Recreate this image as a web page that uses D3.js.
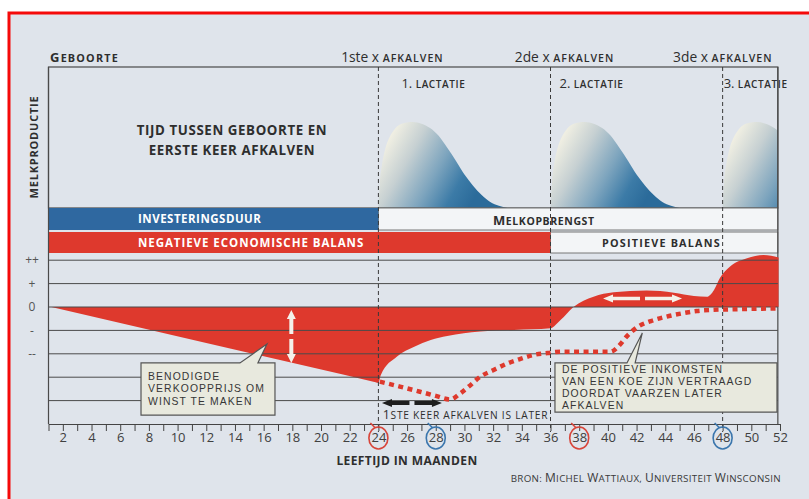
<!DOCTYPE html>
<html>
<head>
<meta charset="utf-8">
<script src="https://cdn.jsdelivr.net/npm/d3@7"></script>
<style>
  body { margin: 0; background: #fff; }
  svg { display: block; font-family: "Open Sans", "DejaVu Sans", sans-serif; }
</style>
</head>
<body>
<svg id="chart" width="809" height="499"></svg>
<script>
const tickMonths = d3.range(1, 53);
const calvingMonths = [24, 36, 48];
const calvingLabels = ['1ste x ', '2de x ', '3de x '];
const lactationLabels = ['1. ', '2. ', '3. '];
const redCircled = [24, 38];
const blueCircled = [28, 48];
const gridValues = [2, 1, 0, -1, -2, -3, -4];
const levelValues = [2, 1, 0, -1, -2];
const levelLabels = ['++', '+', '0', '-', '--'];

// lactation curve: months after calving vs relative milk yield
const lactOffset = [0, 0.1, 0.25, 0.5, 0.8, 1.1, 1.5, 2.0, 2.4, 3.0, 3.6, 4.2, 4.8, 5.4, 6.0, 6.6, 7.2, 7.8, 8.4, 9.0];
const lactYield = [0, 0.3, 0.5, 0.7, 0.83, 0.91, 0.97, 0.995, 1.0, 0.98, 0.93, 0.84, 0.70, 0.55, 0.39, 0.26, 0.15, 0.07, 0.025, 0];

// economic balance (solid red area)
const balanceMonths = [1.2, 12, 23.8, 24, 24.17, 25.3, 26.5, 27.65, 28.8, 31.1, 33.45, 36, 36.7, 37.6, 39.0, 40.4, 42.7, 44.6, 46.0, 46.9, 47.4, 47.8, 48.5, 49.7, 50.85, 51.9];
const balanceValues = [0, -1.54, -3.22, -3.25, -2.91, -2.12, -1.70, -1.41, -1.24, -1.05, -0.98, -0.91, -0.56, 0, 0.44, 0.63, 0.70, 0.61, 0.47, 0.44, 0.73, 1.23, 1.72, 2.08, 2.22, 2.12];

// balance when first calving is later (dotted line)
const delayMonths = [24.1, 25.5, 26.9, 28, 29.0, 29.7, 30.3, 31.1, 32, 33, 34, 34.8, 35.8, 36.7, 38, 39.3, 40.2, 40.7, 41.4, 42.1, 43, 44.1, 45.2, 46.2, 47.3, 48.5, 50, 51.9];
const delayValues = [-3.19, -3.4, -3.62, -3.8, -3.95, -3.7, -3.4, -2.98, -2.7, -2.41, -2.2, -2.05, -1.97, -1.91, -1.91, -1.91, -1.91, -1.7, -1.2, -0.84, -0.6, -0.41, -0.27, -0.17, -0.12, -0.1, -0.08, -0.06];

const RED = '#de392d';
const BLUE = '#2f68a0';
const INK = '#2e2e2e';
const LINE = '#4a4a4a';

const svg = d3.select('#chart');

// poster background with red frame
svg.append('rect')
    .attr('x', 9).attr('y', 13)
    .attr('width', 840).attr('height', 520)
    .attr('fill', '#dfe4eb')
    .attr('stroke', '#f50a0a')
    .attr('stroke-width', 3);

const x = d3.scaleLinear().domain([1, 52]).range([48.5, 780]);
const yLact = d3.scaleLinear().domain([0, 1]).range([208, 122]);
const yEcon = d3.scaleLinear().domain([-5, 2]).range([424, 260.2]);

const frameLeft = x(1);
const frameRight = x(51.85);
const frameTop = 67;
const lactBottom = yLact(0);

function capsText(sel, parts, bigSize, smallSize) {
    parts.forEach(([str, big]) => {
        sel.append('tspan')
            .attr('font-size', big ? bigSize : smallSize)
            .text(str);
    });
    return sel;
}

// ---- lactation curves ----
const defs = svg.append('defs');
const grad = defs.append('linearGradient')
    .attr('id', 'lactGrad')
    .attr('x1', 0.05).attr('y1', 0.3)
    .attr('x2', 0.85).attr('y2', 0.6);
[['0', '#efeee2'], ['0.25', '#c6d0d2'], ['0.55', '#7ea5be'], ['0.8', '#3c7ba7'], ['1', '#2b6b9a']]
    .forEach(([o, c]) => grad.append('stop').attr('offset', o).attr('stop-color', c));

defs.append('clipPath').attr('id', 'frameClip')
    .append('rect')
    .attr('x', frameLeft).attr('y', frameTop)
    .attr('width', frameRight - frameLeft).attr('height', lactBottom - frameTop);

const lactArea = d3.area()
    .x(d => x(d.m))
    .y0(lactBottom)
    .y1(d => yLact(d.v))
    .curve(d3.curveMonotoneX);

const gLact = svg.append('g').attr('clip-path', 'url(#frameClip)');
calvingMonths.forEach(cm => {
    const pts = lactOffset.map((o, i) => ({m: cm + o, v: lactYield[i]}));
    gLact.append('path')
        .datum(pts)
        .attr('d', lactArea)
        .attr('fill', 'url(#lactGrad)');
});

// ---- frames and bars ----
svg.append('rect')
    .attr('x', frameLeft).attr('y', frameTop)
    .attr('width', frameRight - frameLeft).attr('height', lactBottom - frameTop)
    .attr('fill', 'none').attr('stroke', LINE).attr('stroke-width', 1.2);

svg.append('rect')
    .attr('x', x(24)).attr('y', 208)
    .attr('width', frameRight - x(24)).attr('height', 22)
    .attr('fill', '#f3f5f7').attr('stroke', '#777');

svg.append('rect')
    .attr('x', x(36)).attr('y', 232)
    .attr('width', frameRight - x(36)).attr('height', 21)
    .attr('fill', '#f3f5f7').attr('stroke', '#777');

svg.append('rect')
    .attr('x', frameLeft).attr('y', 208)
    .attr('width', x(24) - frameLeft).attr('height', 22)
    .attr('fill', BLUE);

svg.append('rect')
    .attr('x', frameLeft).attr('y', 232)
    .attr('width', x(36) - frameLeft).attr('height', 21)
    .attr('fill', RED);

// side lines of the whole diagram
[frameLeft, frameRight].forEach(fx => {
    svg.append('line')
        .attr('x1', fx).attr('x2', fx)
        .attr('y1', frameTop).attr('y2', yEcon(-5))
        .attr('stroke', LINE).attr('stroke-width', 1.2);
});

// ---- economic balance ----
const balance = balanceMonths.map((m, i) => ({m, v: balanceValues[i]}));
const balanceArea = d3.area()
    .x(d => x(d.m))
    .y0(yEcon(0))
    .y1(d => yEcon(d.v))
    .curve(d3.curveMonotoneX);

svg.append('path')
    .datum(balance)
    .attr('d', balanceArea)
    .attr('fill', RED);

svg.append('g')
    .selectAll('line')
    .data(gridValues)
    .join('line')
    .attr('x1', frameLeft).attr('x2', frameRight)
    .attr('y1', d => yEcon(d)).attr('y2', d => yEcon(d))
    .attr('stroke', LINE)
    .attr('stroke-width', 1);

svg.append('g')
    .selectAll('text')
    .data(levelValues)
    .join('text')
    .attr('x', 32)
    .attr('y', d => yEcon(d))
    .attr('dy', '0.35em')
    .attr('text-anchor', 'middle')
    .attr('font-size', 12)
    .attr('fill', '#555')
    .text((d, i) => levelLabels[i]);

const delay = delayMonths.map((m, i) => ({m, v: delayValues[i]}));
svg.append('path')
    .datum(delay)
    .attr('d', d3.line().x(d => x(d.m)).y(d => yEcon(d.v)).curve(d3.curveMonotoneX))
    .attr('fill', 'none')
    .attr('stroke', RED)
    .attr('stroke-width', 4.5)
    .attr('stroke-dasharray', '5,4.5');

function doubleArrow(x1, y1, x2, y2, color, head, width, shaft) {
    const len = Math.hypot(x2 - x1, y2 - y1);
    const ang = Math.atan2(y2 - y1, x2 - x1) * 180 / Math.PI;
    const half = len / 2 - 2.5;
    const a = svg.append('g')
        .attr('transform', `translate(${x1},${y1}) rotate(${ang})`)
        .attr('fill', color);
    const w = width / 2, s = shaft / 2;
    a.append('path').attr('d',
        `M0,0 L${head},${-w} L${head},${-s} L${half},${-s} L${half},${s} L${head},${s} L${head},${w} Z`);
    a.append('path').attr('d',
        `M${len},0 L${len - head},${-w} L${len - head},${-s} L${len - half},${-s} L${len - half},${s} L${len - head},${s} L${len - head},${w} Z`);
}

doubleArrow(x(17.93), yEcon(-0.13), x(17.93), yEcon(-2.39), '#f4f1ea', 9, 9, 4);
doubleArrow(x(39.66), yEcon(0.36), x(45.17), yEcon(0.36), '#f4f1ea', 10, 8, 3.5);
doubleArrow(x(24.25), yEcon(-4.1), x(28.43), yEcon(-4.1), '#1e1e1e', 10, 8, 4);

capsText(svg.append('text')
    .attr('x', x(24.3)).attr('y', yEcon(-4.6) + 4)
    .attr('fill', INK)
    .style('letter-spacing', '0.75px'),
    [['1', true], ['STE KEER AFKALVEN IS LATER', false]], 12.5, 10.2);

// ---- calving lines ----
svg.append('g')
    .selectAll('line')
    .data(calvingMonths)
    .join('line')
    .attr('x1', d => x(d)).attr('x2', d => x(d))
    .attr('y1', frameTop).attr('y2', yEcon(-5) + 8)
    .attr('stroke', '#3a3a3a')
    .attr('stroke-width', 1)
    .attr('stroke-dasharray', '4,3');

// ---- callouts ----
function callout(box, tail, lines) {
    const x0 = x(box[0]), x1 = x(box[1]);
    const y0 = yEcon(box[2]), y1 = yEcon(box[3]);
    const d = `M${x0},${y0} H${x(tail[0])} L${x(tail[2])},${yEcon(tail[3])} L${x(tail[1])},${y0} H${x1} V${y1} H${x0} Z`;
    svg.append('path')
        .attr('d', d)
        .attr('fill', '#e8e9de')
        .attr('stroke', '#555')
        .attr('stroke-width', 1.2);
    const step = 12.2;
    const first = (y0 + y1) / 2 - lines.length * step / 2 + 9.5;
    svg.append('g')
        .selectAll('text')
        .data(lines)
        .join('text')
        .attr('x', x0 + 7)
        .attr('y', (t, i) => first + i * step)
        .attr('font-family', '"Liberation Sans", Arial, sans-serif')
        .attr('font-size', 10.4)
        .attr('fill', '#363636')
        .style('letter-spacing', '1.1px')
        .text(t => t);
}

callout([7.45, 16.79, -2.39, -4.62], [14.35, 15.6, 16.23, -1.58],
    ['BENODIGDE', 'VERKOOPPRIJS OM', 'WINST TE MAKEN']);
callout([36.31, 51.79, -2.39, -4.49], [41.33, 41.9, 42.4, -1.11],
    ['DE POSITIEVE INKOMSTEN', 'VAN EEN KOE ZIJN VERTRAAGD', 'DOORDAT VAARZEN LATER', 'AFKALVEN']);

// ---- x axis ----
const axis = d3.axisBottom(x)
    .tickValues(tickMonths)
    .tickSize(7)
    .tickSizeOuter(0)
    .tickPadding(2)
    .tickFormat(d => d % 2 === 0 ? d : '');

const gAxis = svg.append('g')
    .attr('transform', `translate(0,${yEcon(-5)})`)
    .call(axis)
    .attr('font-family', null)
    .attr('font-size', 13);
gAxis.select('.domain').attr('stroke', '#444').attr('stroke-width', 1.2);
gAxis.selectAll('.tick line').attr('stroke', '#444');
gAxis.selectAll('.tick text').attr('fill', '#404040');

// hand drawn circles round the ticks
[[redCircled, '#d8453a'], [blueCircled, '#3b76ad']].forEach(([months, color]) => {
    const g = svg.append('g').attr('fill', 'none').attr('stroke', color).attr('stroke-width', 1.6);
    g.selectAll('ellipse')
        .data(months)
        .join('ellipse')
        .attr('cx', d => x(d))
        .attr('cy', yEcon(-5) + 14)
        .attr('rx', 9.5)
        .attr('ry', 11);
    g.selectAll('path')
        .data(months)
        .join('path')
        .attr('d', d => `M${x(d) - 8},${yEcon(-5) - 1} L${x(d) - 3},${yEcon(-5) + 4}`);
});

// ---- texts ----
capsText(svg.append('text')
    .attr('x', 50).attr('y', 61.5)
    .attr('font-weight', 'bold').attr('fill', INK)
    .style('letter-spacing', '1.2px'),
    [['G', true], ['EBOORTE', false]], 13, 10.8);

calvingMonths.forEach((m, i) => {
    capsText(svg.append('text')
        .attr('x', Math.min(x(m) + 14, frameRight - 55))
        .attr('y', 61.5)
        .attr('text-anchor', 'middle')
        .attr('fill', INK),
        [[calvingLabels[i], true], ['AFKALVEN', false]], 13.8, 10.6)
        .select('tspan:last-child')
        .attr('font-weight', 600)
        .style('letter-spacing', '1px');
});

const lactLabelDx = [23, 9, 1];
calvingMonths.forEach((m, i) => {
    capsText(svg.append('text')
        .attr('x', x(m) + lactLabelDx[i])
        .attr('y', 88)
        .attr('fill', INK),
        [[lactationLabels[i], true], ['LACTATIE', false]], 13, 10)
        .select('tspan:last-child')
        .attr('font-weight', 600)
        .style('letter-spacing', '0.6px');
});

svg.append('text')
    .attr('transform', 'translate(37.5,147) rotate(-90)')
    .attr('text-anchor', 'middle')
    .attr('font-size', 11)
    .attr('font-weight', 'bold')
    .attr('fill', INK)
    .style('letter-spacing', '0.8px')
    .text('MELKPRODUCTIE');

svg.append('g')
    .selectAll('text')
    .data(['TIJD TUSSEN GEBOORTE EN', 'EERSTE KEER AFKALVEN'])
    .join('text')
    .attr('x', 232)
    .attr('y', (d, i) => 134.5 + i * 20)
    .attr('text-anchor', 'middle')
    .attr('font-size', 13.3)
    .attr('font-weight', 'bold')
    .attr('fill', INK)
    .style('letter-spacing', '0.6px')
    .text(d => d);

svg.append('text')
    .attr('x', 138).attr('y', 223)
    .attr('font-size', 11.5).attr('font-weight', 'bold')
    .attr('fill', '#fff')
    .style('letter-spacing', '0.5px')
    .text('INVESTERINGSDUUR');

svg.append('text')
    .attr('x', 138).attr('y', 246.5)
    .attr('font-size', 11.5).attr('font-weight', 'bold')
    .attr('fill', '#fff')
    .style('letter-spacing', '0.95px')
    .text('NEGATIEVE ECONOMISCHE BALANS');

capsText(svg.append('text')
    .attr('x', 493).attr('y', 224.5)
    .attr('font-weight', 'bold').attr('fill', INK)
    .style('letter-spacing', '0.6px'),
    [['M', true], ['ELKOPBRENGST', false]], 13, 10.5);

svg.append('text')
    .attr('x', 602).attr('y', 246.5)
    .attr('font-size', 10.8).attr('font-weight', 'bold')
    .attr('fill', INK)
    .style('letter-spacing', '1.2px')
    .text('POSITIEVE BALANS');

svg.append('text')
    .attr('x', 407).attr('y', 464.5)
    .attr('text-anchor', 'middle')
    .attr('font-size', 12).attr('font-weight', 'bold')
    .attr('fill', INK)
    .style('letter-spacing', '0.4px')
    .text('LEEFTIJD IN MAANDEN');

capsText(svg.append('text')
    .attr('x', 781).attr('y', 481.5)
    .attr('text-anchor', 'end')
    .attr('fill', '#3a3a3a')
    .style('letter-spacing', '0.3px'),
    [['BRON: ', false], ['M', true], ['ICHEL ', false], ['W', true], ['ATTIAUX, ', false],
     ['U', true], ['NIVERSITEIT ', false], ['W', true], ['INSCONSIN', false]], 12, 9.8);
</script>
</body>
</html>
